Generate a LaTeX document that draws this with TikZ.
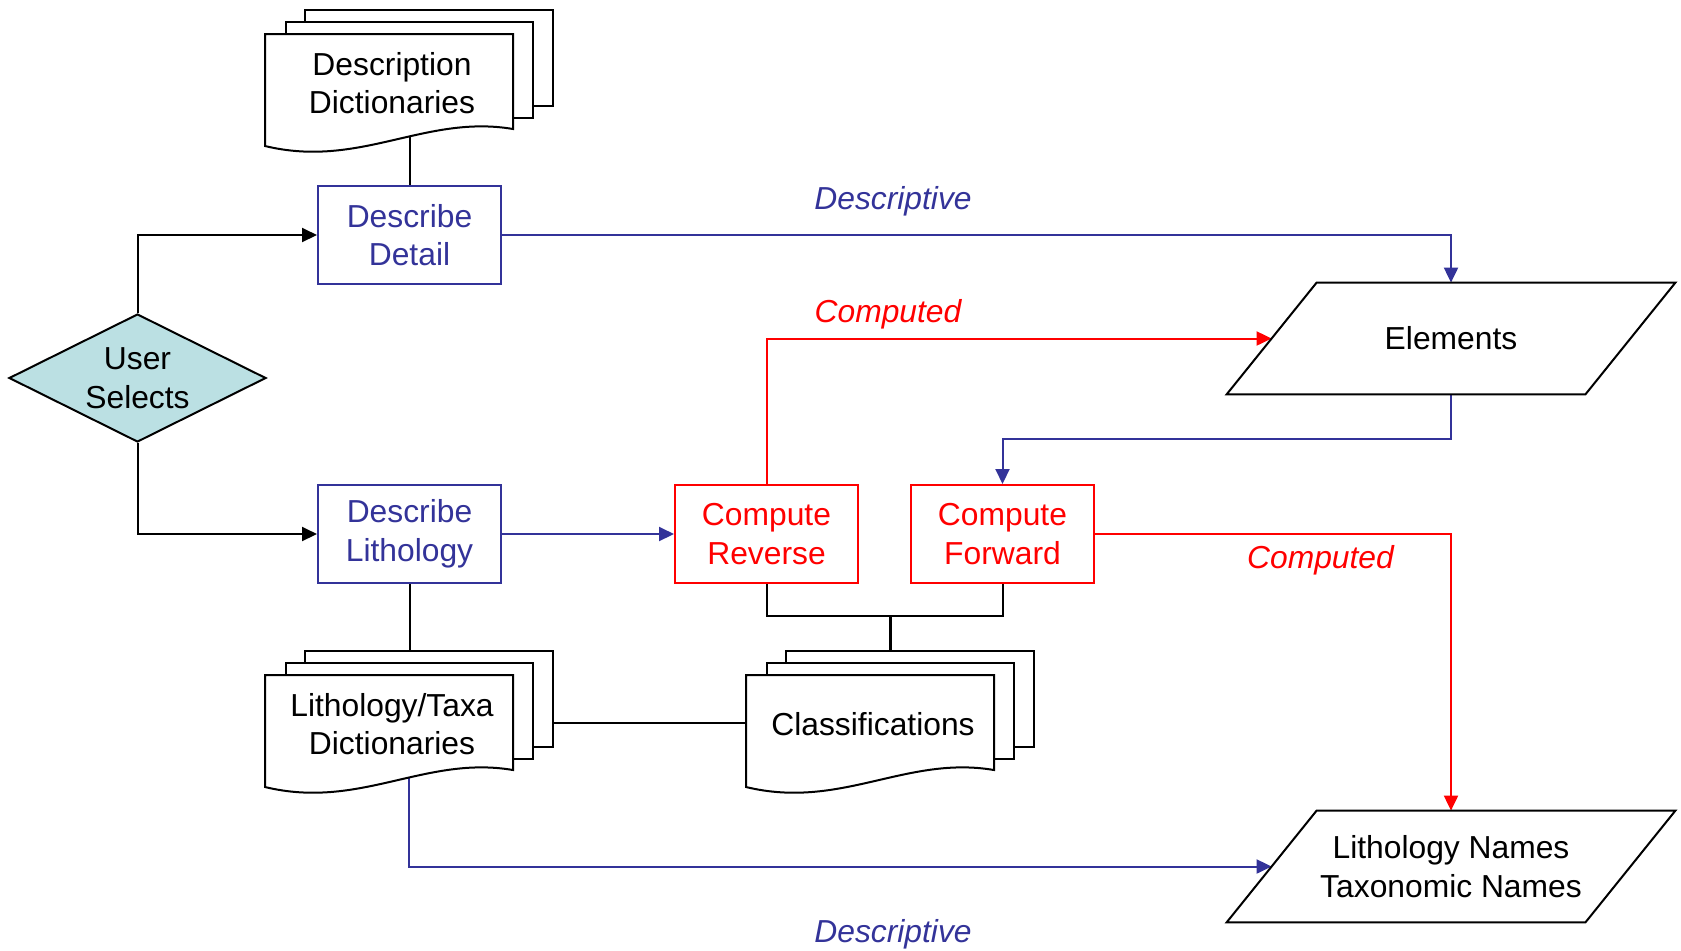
\documentclass[tikz,border=0pt]{standalone}
\usepackage{fontspec}
\setmainfont{Liberation Sans}
\usetikzlibrary{arrows.meta,shapes.geometric}

\pgfdeclarelayer{bg}
\pgfsetlayers{bg,main}

\definecolor{descblue}{RGB}{51,51,153}
\definecolor{compred}{RGB}{255,0,0}
\definecolor{selectfill}{RGB}{187,224,227}

% one drawing unit = one pixel of the layout grid
\newcommand\pxu{0.5pt}

\tikzset{
  every node/.style={font=\fontsize{15.9pt}{19.3pt}\selectfont},
  procbox/.style={draw, line width=1pt, minimum width=183*\pxu,
    minimum height=98*\pxu, align=center, inner sep=0},
  describe/.style={procbox, draw=descblue, text=descblue},
  compute/.style={procbox, draw=compred, text=compred},
  decision/.style={diamond, aspect=2, draw, line width=1pt, fill=selectfill,
    minimum width=257*\pxu, minimum height=128*\pxu, inner sep=0, align=center},
  ioshape/.style={minimum width=358*\pxu, minimum height=111*\pxu,
    inner sep=0, align=center},
  shapeline/.style={draw, line width=1pt},
  link/.style={line width=1pt},
  arrowlink/.style={link, -{Triangle[length=7.5pt,width=7pt]}},
  flowlabel/.style={font=\fontsize{15.9pt}{19.3pt}\selectfont\itshape, anchor=base},
  sheet/.style={draw, fill=white, line width=1pt},
  % stack of three document sheets; origin = top-left of the front sheet
  docstack/.pic={
    \path[sheet] (40,-24) rectangle (288,72);
    \path[sheet] (21,-12) rectangle (268,84);
    \path[sheet] (0,0) -- (248,0) -- (248,95)
      .. controls (160,80) and (95,135) .. (0,112) -- cycle;
    \node[align=center, inner sep=0] (-text) at (127,49) {#1};
    \node[inner sep=0, minimum width=288*\pxu, minimum height=143*\pxu]
      (-stack) at (144,47.5) {};
  },
}

\begin{document}
\begin{tikzpicture}[x=0.5pt, y=-0.5pt]
\useasboundingbox (0,0) rectangle (1681,950);

% process and decision nodes
\node[decision] (sel) at (137.5,378) {User\\Selects};
\node[describe] (detail) at (409.5,235) {Describe\\Detail};
\node[describe] (lith) at (409.5,534) {Describe\\Lithology};
\node[compute] (reverse) at (766.5,534) {Compute\\Reverse};
\node[compute] (forward) at (1002.5,534) {Compute\\Forward};

% data (input/output) nodes
\node[ioshape] (elements) at (1451,338.5) {Elements};
\draw[shapeline] ([xshift=45*\pxu]elements.north west)
  -- ([xshift=45*\pxu]elements.north east)
  -- ([xshift=-45*\pxu]elements.south east)
  -- ([xshift=-45*\pxu]elements.south west) -- cycle;
\node[ioshape] (names) at (1451,866.5) {Lithology Names\\Taxonomic Names};
\draw[shapeline] ([xshift=45*\pxu]names.north west)
  -- ([xshift=45*\pxu]names.north east)
  -- ([xshift=-45*\pxu]names.south east)
  -- ([xshift=-45*\pxu]names.south west) -- cycle;

% dictionaries and classifications
\pic (desc) at (265,34) {docstack={Description\\Dictionaries}};
\pic (litho) at (265,675) {docstack={Lithology/Taxa\\Dictionaries}};
\pic (classif) at (746,675) {docstack={Classifications}};

% flow labels
\node[flowlabel, text=descblue] (lbldesctop) at (893,209) {Descriptive};
\node[flowlabel, text=compred] (lblcomptop) at (888,322) {Computed};
\node[flowlabel, text=compred] (lblcompright) at (1320.5,568) {Computed};
\node[flowlabel, text=descblue] (lbldescbot) at (893,942) {Descriptive};

\begin{pgfonlayer}{bg}
  % user choice
  \draw[arrowlink] (sel.north) |- (detail.west);
  \draw[arrowlink] (sel.south) |- (lith.west);
  % dictionary lookups
  \draw[link] (detail.north) -- (detail.north |- desc-stack.center);
  \draw[link] (lith.south) -- (lith.south |- litho-stack.center);
  \draw[link] (litho-stack.center) -- (classif-stack.center);
  % computations share the classifications
  \path (reverse.south) ++(0,32) coordinate (jl);
  \coordinate (join) at (jl -| classif-stack.north);
  \draw[link] (reverse.south) |- (join);
  \draw[link] (forward.south) |- (join);
  \draw[link, line width=1.5pt] (join) -- (classif-stack.north);
  % descriptive flows
  \draw[arrowlink, descblue] (detail.east) -| (elements.north);
  \draw[arrowlink, descblue] (lith.east) -- (reverse.west);
  \draw[arrowlink, descblue] (elements.south) -- ++(0,45) -| (forward.north);
  \draw[arrowlink, descblue] (litho-stack.center) |- (names.west);
  % computed flows
  \draw[arrowlink, compred] (reverse.north) |- (elements.west);
  \draw[arrowlink, compred] (forward.east) -| (names.north);
\end{pgfonlayer}
\end{tikzpicture}
\end{document}
